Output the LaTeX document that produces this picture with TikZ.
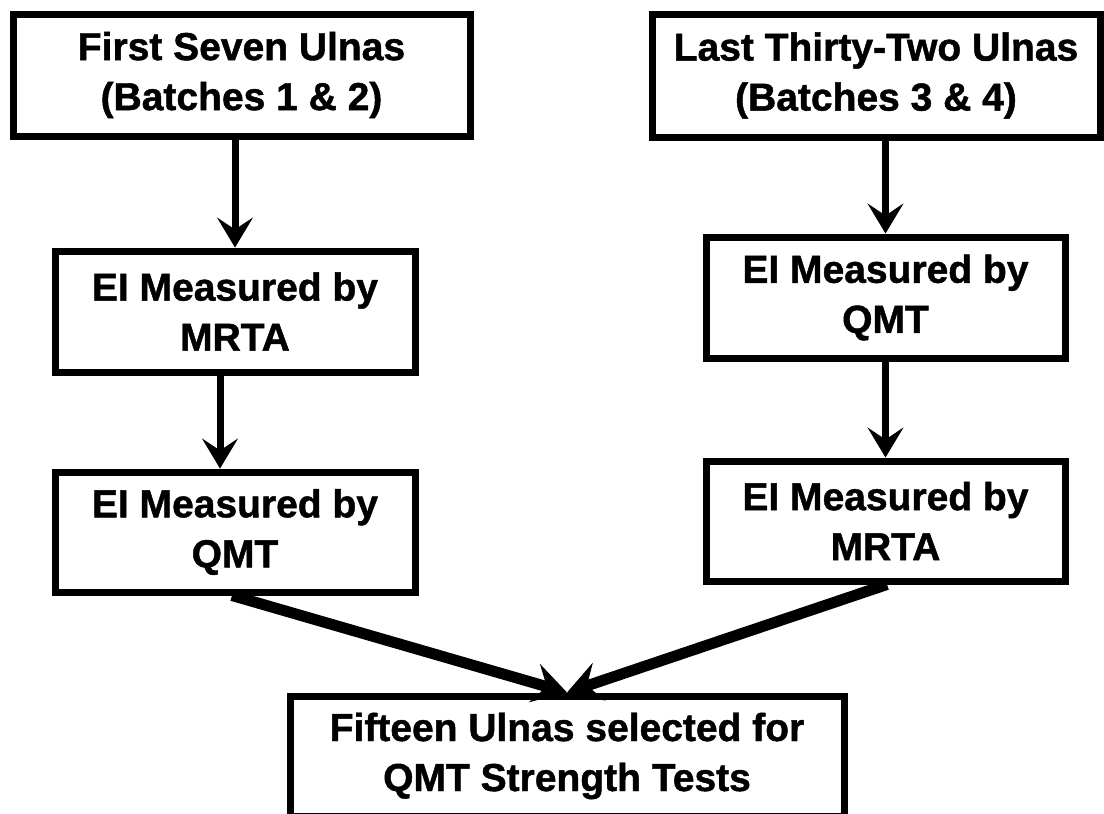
\documentclass[tikz,border=0pt]{standalone}
\usepackage{fontspec}
\setmainfont{Liberation Sans}[BoldFeatures={FakeBold=1.2}]
\usetikzlibrary{arrows.meta}
\begin{document}
\begin{tikzpicture}[x=1pt,y=-1pt,
  stepbox/.style={draw=black, line width=7pt, inner sep=0pt, align=center,
    font=\fontsize{39}{50}\selectfont\bfseries},
  varr/.style={line width=7pt, -{Stealth[length=30pt,width=36pt,inset=12pt,line width=1pt]}},
  darr/.style={line width=11pt, -{Stealth[length=34pt,width=40pt,inset=13pt,line width=1pt]}}]
\useasboundingbox[fill=white] (0,0) rectangle (1104,814);
\node[stepbox, minimum width=457pt, minimum height=122pt] (A) at (241.5,75) {First Seven Ulnas\\(Batches 1 \& 2)};
\node[stepbox, minimum width=448pt, minimum height=123pt] (B) at (876,75.5) {Last Thirty-Two Ulnas\\(Batches 3 \& 4)};
\node[stepbox, minimum width=360pt, minimum height=121pt] (C) at (235,311.5) {EI Measured by\\MRTA};
\node[stepbox, minimum width=360pt, minimum height=120pt] (D) at (235,532) {EI Measured by\\QMT};
\node[stepbox, minimum width=359pt, minimum height=121pt] (E) at (885.5,297.5) {EI Measured by\\QMT};
\node[stepbox, minimum width=359pt, minimum height=120pt] (F) at (885.5,521) {EI Measured by\\MRTA};
\node[stepbox, minimum width=554pt, minimum height=120pt] (G) at (567,756) {Fifteen Ulnas selected for\\QMT Strength Tests};
\draw[varr] (A.south -| C.north) -- (C.north);
\draw[varr] ([xshift=-15pt]C.south) -- ([xshift=-15pt]D.north);
\draw[varr] (B.south -| E.north) -- (E.north);
\draw[varr] (E.south) -- (F.north);
\draw[darr] ([xshift=-3pt]D.south) -- (G.north);
\draw[darr] ([xshift=1.5pt]F.south) -- (G.north);
\end{tikzpicture}
\end{document}
